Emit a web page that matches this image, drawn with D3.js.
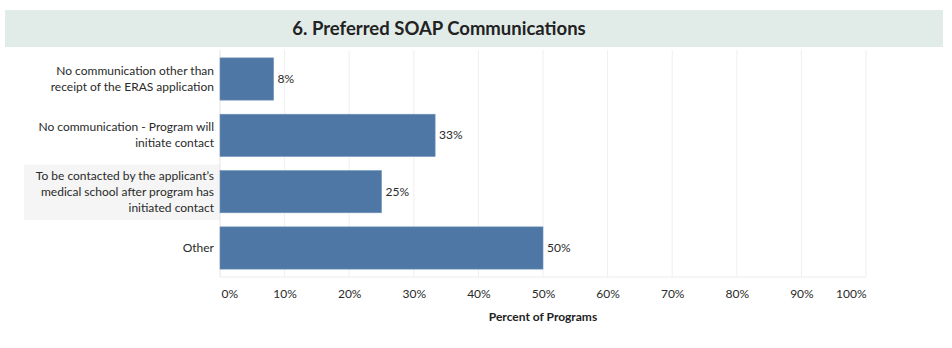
<!DOCTYPE html>
<html>
<head>
<meta charset="utf-8">
<script src="https://cdn.jsdelivr.net/npm/d3@7"></script>
<style>
  body { margin: 0; background: #fff; font-family: Lato, "Open Sans", sans-serif; }
</style>
</head>
<body>
<div id="chart"></div>
<script>
var categories = [
    ['No communication other than', 'receipt of the ERAS application'],
    ['No communication - Program will', 'initiate contact'],
    ['To be contacted by the applicant\u2019s', 'medical school after program has', 'initiated contact'],
    ['Other']
];
var values = [8.3, 33.3, 25, 50];
var tickValues = [0, 10, 20, 30, 40, 50, 60, 70, 80, 90, 100];
var highlighted = 2;

var width = 952, height = 348;
var margin = {top: 50, right: 86, bottom: 71, left: 220};
var plotW = width - margin.left - margin.right,
    plotH = height - margin.top - margin.bottom;

var svg = d3.select('#chart')
  .append('svg')
    .attr('width', width)
    .attr('height', height);

// title band
svg.append('rect')
    .attr('x', 5).attr('y', 10)
    .attr('width', 938).attr('height', 37)
    .attr('fill', '#e1ebe8');
svg.append('text')
    .attr('x', 439).attr('y', 35)
    .attr('text-anchor', 'middle')
    .attr('font-size', '18.5px')
    .attr('font-weight', 'bold')
    .attr('fill', '#222')
    .text('6. Preferred SOAP Communications');

var g = svg.append('g')
    .attr('transform', 'translate(' + margin.left + ',' + margin.top + ')');

var x = d3.scaleLinear().domain([0, 100]).range([0, plotW]);
var y = d3.scaleBand()
    .domain(d3.range(values.length))
    .range([0, plotH])
    .paddingInner(0.25)
    .paddingOuter(0.14);

// highlighted row label background
g.append('rect')
    .attr('x', 24 - margin.left)
    .attr('y', y(highlighted) - y.step() * y.paddingInner() / 2 + 1)
    .attr('width', margin.left - 24)
    .attr('height', y.step() - 1)
    .attr('fill', '#f4f5f4');

// vertical gridlines
g.selectAll('.grid')
  .data(tickValues.slice(1))
  .enter().append('line')
    .attr('x1', function(d) { return x(d); })
    .attr('x2', function(d) { return x(d); })
    .attr('y1', 0).attr('y2', plotH)
    .attr('stroke', '#efefef')
    .attr('stroke-width', 1);
g.append('line')
    .attr('x1', 0).attr('x2', plotW)
    .attr('y1', plotH).attr('y2', plotH)
    .attr('stroke', '#ececec');
g.append('line')
    .attr('x1', 0).attr('x2', 0)
    .attr('y1', 0).attr('y2', plotH)
    .attr('stroke', '#e4e4e4');

// bars
g.selectAll('.bar')
  .data(values)
  .enter().append('rect')
    .attr('x', 0)
    .attr('y', function(d, i) { return y(i); })
    .attr('width', function(d) { return x(d); })
    .attr('height', y.bandwidth())
    .attr('fill', '#4e77a5')
    .attr('stroke', '#6f93bb')
    .attr('stroke-width', 0.6);

// value labels
g.selectAll('.val')
  .data(values)
  .enter().append('text')
    .attr('x', function(d) { return x(d) + 4; })
    .attr('y', function(d, i) { return y(i) + y.bandwidth() / 2 + 4; })
    .attr('font-size', '12px')
    .attr('fill', '#2a2a2a')
    .text(function(d) { return Math.round(d) + '%'; });

// category labels
var lineH = 16;
categories.forEach(function(lines, i) {
    var cy = y(i) + y.bandwidth() / 2;
    var t = g.append('text')
        .attr('text-anchor', 'end')
        .attr('font-size', '12px')
        .attr('fill', '#2a2a2a');
    lines.forEach(function(s, j) {
        t.append('tspan')
            .attr('x', -6)
            .attr('y', cy + 4 + (j - (lines.length - 1) / 2) * lineH)
            .text(s);
    });
});

// x axis
var axis = g.append('g')
    .attr('transform', 'translate(0,' + plotH + ')')
    .call(d3.axisBottom(x)
        .tickValues(tickValues)
        .tickSize(0)
        .tickPadding(12)
        .tickFormat(function(d) { return d + '%'; }));
axis.select('.domain').remove();
axis.selectAll('text')
    .attr('font-size', '12px')
    .attr('font-family', 'Lato, sans-serif')
    .attr('fill', '#2a2a2a')
    .attr('text-anchor', function(d) { return d === 0 ? 'start' : (d === 100 ? 'end' : 'middle'); })
    .attr('dx', function(d) { return d === 0 ? 1 : 0; });

g.append('text')
    .attr('x', x(50))
    .attr('y', plotH + 44)
    .attr('text-anchor', 'middle')
    .attr('font-size', '12px')
    .attr('font-weight', 'bold')
    .attr('fill', '#222')
    .text('Percent of Programs');
</script>
</body>
</html>
